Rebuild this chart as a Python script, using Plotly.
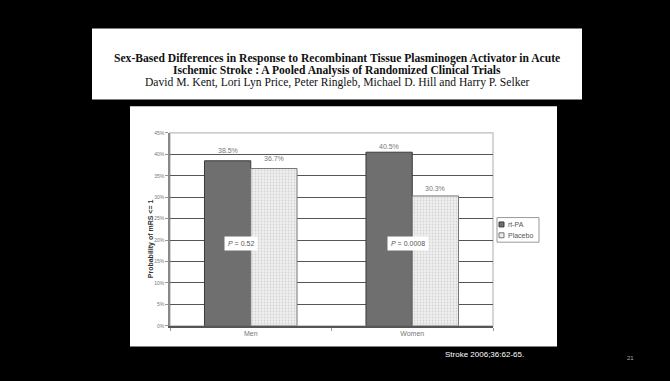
import plotly.graph_objects as go

# Data
groups = ["Men", "Women"]
series_names = ["rt-PA", "Placebo"]
tpa = [38.5, 40.5]
placebo = [36.7, 30.3]
p_values = ["<i>P</i> = 0.52", "<i>P</i> = 0.0008"]
p_y = [19.3, 19.3]
y_ticks = [0, 5, 10, 15, 20, 25, 30, 35, 40, 45]
y_ticktext = [f"{v}%" for v in y_ticks]
header_lines = [
    "<b>Sex-Based Differences in Response to Recombinant Tissue Plasminogen Activator in Acute</b>",
    "<b>Ischemic Stroke : A Pooled Analysis of Randomized Clinical Trials</b>",
    "David M. Kent, Lori Lyn Price, Peter Ringleb, Michael D. Hill and Harry P. Selker",
]

W, H = 670, 381


def px(x):
    return x / W


def py(y):
    return 1 - y / H


tpa_style = dict(color="#6f6f6f", line=dict(color="#3a3a3a", width=1))
placebo_style = dict(color="#ececec", line=dict(color="#777", width=1),
                     pattern=dict(shape=".", fgcolor="#b4b4b4", bgcolor="#f0f0f0",
                                  size=3, solidity=0.3))

fig = go.Figure()
fig.add_trace(go.Bar(x=groups, y=tpa, name=series_names[0], marker=tpa_style))
fig.add_trace(go.Bar(x=groups, y=placebo, name=series_names[1], marker=placebo_style))

# Value labels above each bar (lifted a little so they clear the gridlines)
label_lift = {("Men", 0): 5, ("Men", 1): 5, ("Women", 0): 0, ("Women", 1): 2}
for si, (vals, dx) in enumerate(zip([tpa, placebo], [-23, 23])):
    for g, v in zip(groups, vals):
        fig.add_annotation(x=g, y=v, xref="x", yref="y", text=f"{v:.1f}%",
                           showarrow=False, xshift=dx, yanchor="bottom",
                           yshift=label_lift[(g, si)],
                           font=dict(size=7, color="#777", family="Arial"))

# P-value boxes
for g, txt, yv, xs in zip(groups, p_values, p_y, [-10, -4]):
    fig.add_annotation(x=g, y=yv, xref="x", yref="y", text=txt, showarrow=False,
                       xshift=xs, bgcolor="white", borderpad=3,
                       font=dict(size=7, color="#555", family="Arial"))

# Slide panels
fig.add_shape(type="rect", xref="paper", yref="paper",
              x0=px(92), x1=px(582), y0=py(98), y1=py(26),
              fillcolor="white", line=dict(width=0), layer="below")
fig.add_shape(type="rect", xref="paper", yref="paper",
              x0=px(130), x1=px(557), y0=py(349), y1=py(105),
              fillcolor="white", line=dict(width=0), layer="below")

# Header text, one line per annotation
for line, yc in zip(header_lines, [49, 61, 73]):
    fig.add_annotation(xref="paper", yref="paper", x=px(337), y=py(yc),
                       text=line, showarrow=False, align="center", borderpad=0,
                       font=dict(family="Liberation Serif", size=11.6, color="#111"))

# Y-axis title
fig.add_annotation(xref="paper", yref="paper", x=px(145), y=py(240),
                   text="<b>Probability of mRS <= 1</b>", textangle=-90, showarrow=False,
                   font=dict(family="Arial", size=7, color="#333"))

# Compact legend box
fig.add_shape(type="rect", xref="paper", yref="paper",
              x0=px(497), x1=px(539), y0=py(243), y1=py(218),
              fillcolor="white", line=dict(color="#999", width=1))
for name, style, yc in zip(series_names, [tpa_style, placebo_style], [225, 236]):
    fig.add_shape(type="rect", xref="paper", yref="paper",
                  x0=px(499), x1=px(504), y0=py(yc + 2.5), y1=py(yc - 2.5),
                  fillcolor=style["color"], line=dict(color=style["line"]["color"], width=1))
    fig.add_annotation(xref="paper", yref="paper", x=px(505.5), y=py(yc), xanchor="left",
                       text=name, showarrow=False,
                       font=dict(family="Arial", size=7, color="#555"))

# Footer
fig.add_annotation(xref="paper", yref="paper", x=px(443), y=py(364), xanchor="left",
                   text="Stroke 2006;36:62-65.", showarrow=False,
                   font=dict(family="Arial", size=8, color="white"))
fig.add_annotation(xref="paper", yref="paper", x=px(636), y=py(366),
                   text="21", showarrow=False,
                   font=dict(family="Arial", size=6, color="#aaa"))

fig.update_layout(
    width=W, height=H,
    margin=dict(l=0, r=0, t=0, b=0),
    paper_bgcolor="black", plot_bgcolor="white",
    barmode="group", bargap=0.427, bargroupgap=0,
    showlegend=False,
    xaxis=dict(domain=[px(170), px(493)], showgrid=False,
               tickfont=dict(size=7, color="#777", family="Arial"),
               ticks="outside", ticklen=3, tickcolor="#999", tickson="boundaries",
               showline=True, linecolor="#555", linewidth=1.5),
    yaxis=dict(domain=[py(328), py(132)], range=[0, 45],
               tickvals=y_ticks, ticktext=y_ticktext,
               tickfont=dict(size=5, color="#777", family="Arial"),
               ticks="outside", ticklen=3, tickcolor="#999",
               showgrid=True, gridcolor="#555", gridwidth=1.3,
               showline=True, linecolor="#888", linewidth=1.5, zeroline=False),
)
# Light frame on top and right of the plot area
fig.add_shape(type="rect", xref="paper", yref="paper",
              x0=px(170), x1=px(493), y0=py(328), y1=py(132),
              line=dict(color="#bbb", width=1.2), layer="below")

fig.write_html("out.html")
